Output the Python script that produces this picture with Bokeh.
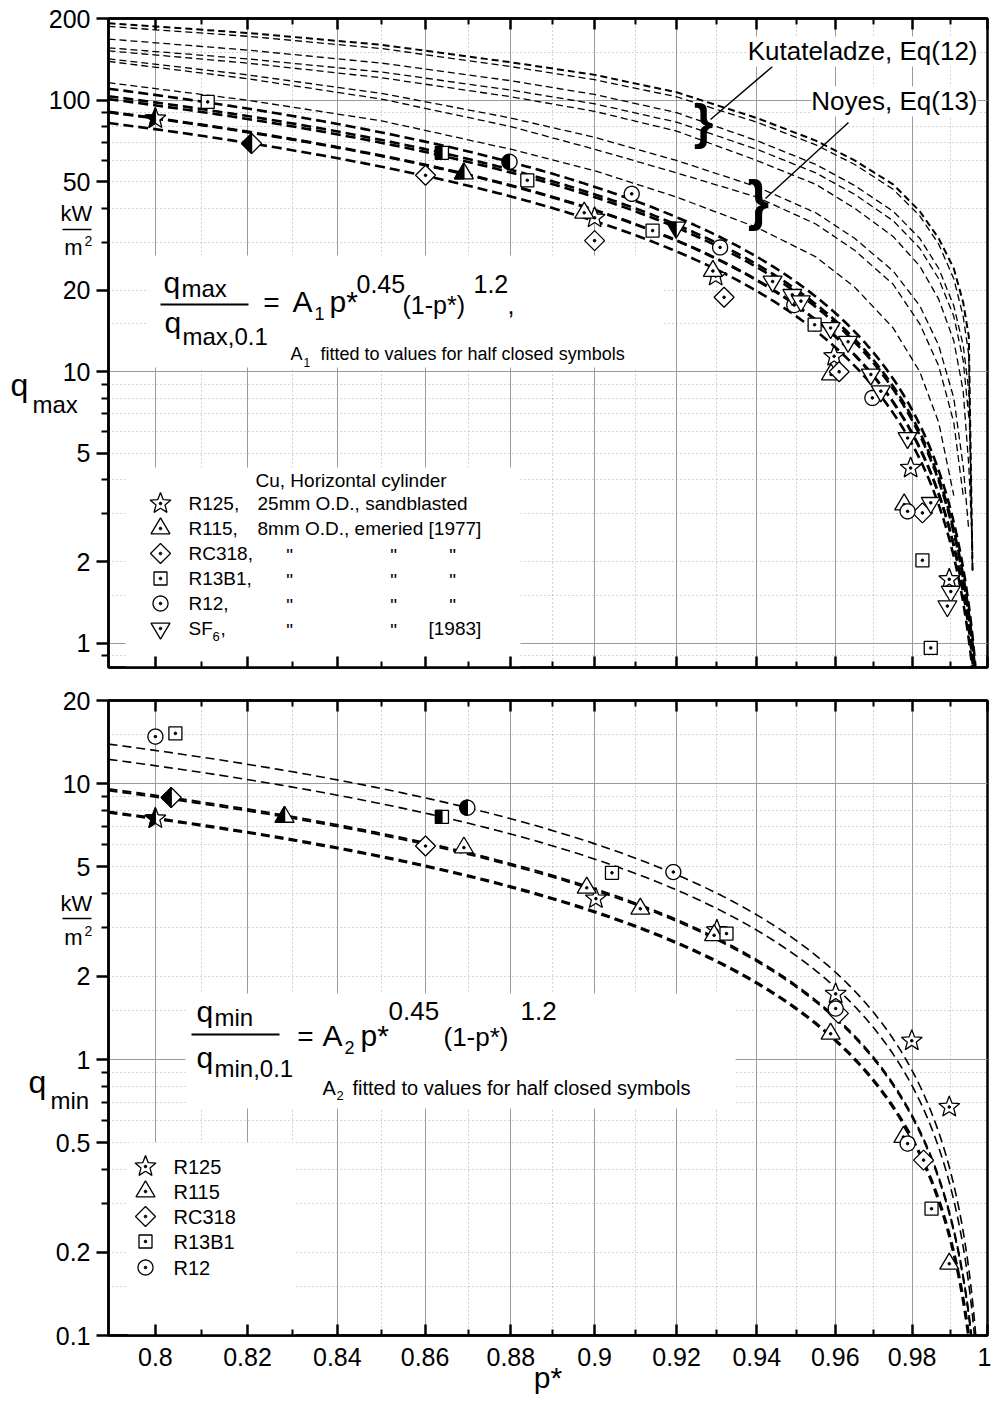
import math
import numpy as np
from bokeh.plotting import figure
from bokeh.layouts import column, row
from bokeh.models import FixedTicker, LogAxis, CustomJSTickFormatter, Label, Range1d
from bokeh.core.properties import value
from bokeh.embed import file_html
from bokeh.resources import INLINE

FONT = "Liberation Sans"
NAN = float("nan")

# ---------------- axes / ticks ----------------
x_major = [0.8, 0.82, 0.84, 0.86, 0.88, 0.9, 0.92, 0.94, 0.96, 0.98, 1.0]
x_minor = [0.81, 0.83, 0.85, 0.87, 0.89, 0.91, 0.93, 0.95, 0.97, 0.99]
top_y_labels = [1, 2, 5, 10, 20, 50, 100, 200]
top_y_minor = [0.9, 3, 4, 6, 7, 8, 9, 30, 40, 60, 70, 80, 90]
top_y_solid = [1, 10, 100]
top_y_dotted = [0.9, 1.5, 2, 3, 4, 5, 6, 7, 8, 9, 15, 20, 30, 40, 50, 60, 70, 80, 90, 150]
bot_y_labels = [0.1, 0.2, 0.5, 1, 2, 5, 10, 20]
bot_y_minor = [0.3, 0.4, 0.6, 0.7, 0.8, 0.9, 3, 4, 6, 7, 8, 9]
bot_y_solid = [1, 10]
bot_y_dotted = [0.15, 0.2, 0.3, 0.4, 0.5, 0.6, 0.7, 0.8, 0.9, 1.5, 2, 3, 4, 5, 6, 7, 8, 9, 15]

# exponents of the correlation printed on the chart
EXP_P = 0.45
EXP_1P = 1.2

# ---------------- top panel: q_max (kW/m2) ----------------
qmax_R125_p = [0.9000, 0.9297, 0.9597, 0.9796, 0.9898]
qmax_R125_q = [36.9, 22.5, 11.4, 4.42, 1.72]
qmax_R115_p = [0.8975, 0.9290, 0.9589, 0.9779]
qmax_R115_q = [38.5, 23.5, 9.77, 3.24]
qmax_RC318_p = [0.8601, 0.9000, 0.9318, 0.9610, 0.9827]
qmax_RC318_q = [52.9, 30.4, 18.8, 10.0, 3.02]
qmax_R13B1_p = [0.8113, 0.8839, 0.9141, 0.9547, 0.9827, 0.9849]
qmax_R13B1_q = [98.6, 50.7, 33.1, 14.9, 2.02, 0.961]
qmax_R12_p = [0.9090, 0.9308, 0.9495, 0.9696, 0.9788]
qmax_R12_q = [45.2, 28.7, 17.6, 8.01, 3.06]
qmax_SF6_p = [0.9440, 0.9490, 0.9512, 0.9588, 0.9633, 0.9692, 0.9718, 0.9788, 0.9849, 0.9902, 0.9893]
qmax_SF6_q = [21.5, 19.2, 18.2, 14.5, 12.9, 9.77, 8.48, 5.70, 3.29, 1.55, 1.37]
# half closed symbols: R125, R115, RC318, R13B1, R12, SF6
qmax_half_p = [0.800, 0.869, 0.8209, 0.8639, 0.8797, 0.9199]
qmax_half_q = [85.6, 53.7, 69.3, 64.0, 59.3, 34.0]

# Kutateladze Eq(12) and Noyes Eq(13) curves
p_theory = [0.79, 0.82, 0.85, 0.88, 0.90, 0.92, 0.94, 0.955, 0.965, 0.975, 0.982, 0.987, 0.991, 0.9935, 0.995, 0.996]
kut_1 = [192, 177, 160, 138, 124, 107, 86, 71, 60, 49, 39, 31, 24, 18, 13.5, 1.85]
kut_2 = [187, 172, 155, 133, 119, 103, 83, 68.5, 58, 47, 37.5, 29.5, 22, 16, 11.5, 1.85]
kut_3 = [168, 153, 137, 118, 105, 90, 71, 58, 48.5, 39, 31, 24, 17.5, 12.5, 8.5, 1.85]
kut_4 = [156, 142, 127, 109, 97, 83, 66, 54, 45, 36, 28.5, 22, 16, 11, 6.8, NAN]
kut_5 = [152, 137, 121, 103, 91, 77, 60, 49, 40, 31.5, 24.5, 18.5, 13, 8.5, 4.5, 2.2]
noy_1 = [142, 124, 106, 86, 73, 60, 48, 38.5, 31, 23.5, 17.5, 12.5, 8, 4.5, 2.6, NAN]
noy_2 = [139, 120, 101, 80, 66, 54, 44, 35, 28, 21, 15, 10.5, 6.5, 3.5, NAN, NAN]
noy_3 = [116, 100, 84, 66, 55, 44, 34, 26.5, 20.5, 14.5, 10, 6.5, 3.5, NAN, NAN, NAN]

# ---------------- bottom panel: q_min (kW/m2) ----------------
qmin_R125_p = [0.9003, 0.9300, 0.9601, 0.9799, 0.9898]
qmin_R125_q = [3.83, 2.94, 1.73, 1.17, 0.673]
qmin_R115_p = [0.8690, 0.8981, 0.9111, 0.9293, 0.9588, 0.9777, 0.9898]
qmin_R115_q = [5.86, 4.19, 3.52, 2.82, 1.24, 0.524, 0.182]
qmin_RC318_p = [0.8601, 0.9608, 0.9830]
qmin_RC318_q = [5.94, 1.47, 0.432]
qmin_R13B1_p = [0.8043, 0.9042, 0.9324, 0.9851]
qmin_R13B1_q = [15.2, 4.75, 2.86, 0.288]
qmin_R12_p = [0.8000, 0.9192, 0.9601, 0.9788]
qmin_R12_q = [14.8, 4.78, 1.53, 0.496]
# half closed symbols: R125, R115, RC318, R13B1, R12
qmin_half_p = [0.800, 0.8282, 0.8034, 0.8639, 0.8698]
qmin_half_q = [7.47, 7.57, 8.90, 7.57, 8.18]

top_kinds = ["star", "triangle", "diamond", "square", "circle", "inverted_triangle"]
bot_kinds = ["star", "triangle", "diamond", "square", "circle"]

# ---------------- geometry helpers (page pixels) ----------------
LABEL_W = 92          # width of the left strip holding tick labels and axis titles
FRAME_L = 108
FRAME_W = 879
X_LO, X_HI = 0.79, 1.0
LX0, LX1 = math.log10(X_LO), math.log10(X_HI)


def xd(px):
    return 10 ** (LX0 + (px - FRAME_L) / FRAME_W * (LX1 - LX0))


def xp(x):
    return FRAME_L + (math.log10(x) - LX0) / (LX1 - LX0) * FRAME_W


class Panel:
    def __init__(self, top, height, ylo, yhi, fig_top, fig_bottom):
        self.top, self.height, self.ylo, self.yhi = top, height, ylo, yhi
        self.fig_top, self.fig_bottom = fig_top, fig_bottom
        self.l0, self.l1 = math.log10(ylo), math.log10(yhi)

    def yd(self, py):
        return 10 ** (self.l1 - (py - self.top) / self.height * (self.l1 - self.l0))

    def yp(self, y):
        return self.top + (self.l1 - math.log10(y)) / (self.l1 - self.l0) * self.height


TOP = Panel(18, 649, 0.814, 200, 0, 677)
BOT = Panel(700, 635, 0.1, 20, 677, 1401)


def make_fig(pan, ylabels, yminor, ysolid, ydotted, show_x):
    f = figure(x_axis_type="log", y_axis_type="log",
               x_range=Range1d(X_LO, X_HI), y_range=Range1d(pan.ylo, pan.yhi),
               frame_width=FRAME_W, frame_height=pan.height,
               min_border_left=FRAME_L - LABEL_W, min_border_right=4,
               min_border_top=pan.top - pan.fig_top,
               min_border_bottom=pan.fig_bottom - pan.top - pan.height,
               output_backend="svg", toolbar_location=None)
    f.frame_align = False
    f.background_fill_color = "white"
    f.border_fill_color = "white"
    f.outline_line_color = "black"
    f.outline_line_width = 2.5
    f.add_layout(LogAxis(), "above")
    for ax in f.xaxis:
        ax.ticker = FixedTicker(ticks=x_major, minor_ticks=x_minor)
        ax.axis_line_width = 2.5
        ax.major_tick_in = 11
        ax.major_tick_out = 0
        ax.minor_tick_in = 6
        ax.minor_tick_out = 0
        ax.major_tick_line_width = 2.5
        ax.minor_tick_line_width = 2
        ax.formatter = CustomJSTickFormatter(code="return '';")
        ax.major_label_text_font_size = "1px"
        ax.major_label_standoff = 0
    if show_x:
        bx = f.below[0]
        bx.formatter = CustomJSTickFormatter(code="return String(Math.round(tick*100)/100);")
        bx.major_label_text_font_size = "25px"
        bx.major_label_text_font = FONT
        bx.major_label_text_color = "black"
        bx.major_label_standoff = 12
        bx.axis_label = "p*"
        bx.axis_label_text_font = FONT
        bx.axis_label_text_font_size = "30px"
        bx.axis_label_text_font_style = "normal"
        bx.axis_label_text_color = "black"
        bx.axis_label_standoff = -8
    ya = f.yaxis[0]
    ya.ticker = FixedTicker(ticks=ylabels, minor_ticks=yminor)
    ya.formatter = CustomJSTickFormatter(code="return '';")
    ya.axis_line_width = 2.5
    ya.major_tick_out = 12
    ya.major_tick_in = 0
    ya.minor_tick_out = 7
    ya.minor_tick_in = 0
    ya.major_tick_line_width = 2.5
    ya.minor_tick_line_width = 2
    ya.major_label_text_font_size = "1px"
    ya.major_label_standoff = 0
    f.xgrid.ticker = FixedTicker(ticks=x_major, minor_ticks=x_minor)
    f.ygrid.ticker = FixedTicker(ticks=ysolid, minor_ticks=ydotted)
    for g in (f.xgrid, f.ygrid):
        g.grid_line_color = "#9a9a9a"
        g.grid_line_width = 1
        g.minor_grid_line_color = "#a8a8a8"
        g.minor_grid_line_width = 1
        g.minor_grid_line_dash = "1 3"
    return f


def make_label_fig(pan, ylabels):
    h = pan.fig_bottom - pan.fig_top
    f = figure(x_range=Range1d(0, LABEL_W), y_axis_type="log",
               y_range=Range1d(pan.yd(pan.fig_bottom), pan.yd(pan.fig_top)),
               frame_width=LABEL_W, frame_height=h,
               x_axis_location=None, y_axis_location=None,
               min_border_left=0, min_border_right=0, min_border_top=0, min_border_bottom=0,
               output_backend="svg", toolbar_location=None)
    f.frame_align = False
    f.outline_line_color = None
    f.grid.visible = False
    f.background_fill_color = "white"
    f.border_fill_color = "white"
    f.text(x=[90] * len(ylabels), y=ylabels, text=[f"{t:g}" for t in ylabels],
           text_align="right", text_baseline="middle", text_font=value(FONT),
           text_font_size="25px", text_color="black")
    return f


def lab(f, pan, x, y, text, size, align="left", baseline="alphabetic", style="normal", bg=None, strip=False):
    # y is the text baseline (alphabetic) or its centre (middle), in page pixels
    xx = x if strip else xd(x)
    yy = y - 0.35 * size if baseline == "alphabetic" else y
    l = Label(x=xx, y=pan.yd(yy), text=text, text_font=FONT, text_font_size=f"{size}px",
              text_align=align, text_baseline="middle", text_font_style=style, text_color="black")
    if bg is not None:
        l.background_fill_color = bg
    f.add_layout(l)


def white_box(f, pan, x0, y0, x1, y1):
    f.quad(left=[xd(x0)], right=[xd(x1)], top=[pan.yd(y0)], bottom=[pan.yd(y1)],
           fill_color="white", line_color=None)


def shape(kind, half):
    if kind == "square":
        a = 6.5
        return [(-a, -a), (0, -a), (0, a), (-a, a)] if half else [(-a, -a), (a, -a), (a, a), (-a, a)]
    if kind == "diamond":
        d = 10
        return [(0, -d), (0, d), (-d, 0)] if half else [(0, -d), (d, 0), (0, d), (-d, 0)]
    if kind == "triangle":
        s, h = 19, 16
        return ([(0, -2 * h / 3), (0, h / 3), (-s / 2, h / 3)] if half
                else [(0, -2 * h / 3), (s / 2, h / 3), (-s / 2, h / 3)])
    if kind == "inverted_triangle":
        s, h = 19, 16
        return ([(0, 2 * h / 3), (0, -h / 3), (-s / 2, -h / 3)] if half
                else [(0, 2 * h / 3), (s / 2, -h / 3), (-s / 2, -h / 3)])
    if kind == "circle":
        r = 7.5
        angs = np.linspace(math.pi / 2, 3 * math.pi / 2, 21) if half else np.linspace(0, 2 * math.pi, 41)
        return [(r * math.cos(a), r * math.sin(a)) for a in angs]
    if kind == "star":
        R, ri = 11.0, 4.7
        ks = range(5, 11) if half else range(10)
        pts = []
        for k in ks:
            a = -math.pi / 2 + k * math.pi / 5
            rad = R if k % 2 == 0 else ri
            pts.append((rad * math.cos(a), rad * math.sin(a)))
        return pts
    raise ValueError(kind)


def markers(f, pan, ps, qs, kind, half=False, dot=True):
    full = shape(kind, False)
    xs, ys = [], []
    for p_, q_ in zip(ps, qs):
        cx, cy = xp(p_), pan.yp(q_)
        xs.append([xd(cx + dx) for dx, dy in full])
        ys.append([pan.yd(cy + dy) for dx, dy in full])
    f.patches(xs, ys, fill_color="white", line_color="black", line_width=1.3)
    if half:
        hp = shape(kind, True)
        hx, hy = [], []
        for p_, q_ in zip(ps, qs):
            cx, cy = xp(p_), pan.yp(q_)
            hx.append([xd(cx + dx) for dx, dy in hp])
            hy.append([pan.yd(cy + dy) for dx, dy in hp])
        f.patches(hx, hy, fill_color="black", line_color="black", line_width=1.3)
    elif dot:
        f.scatter(list(ps), list(qs), marker="circle", size=2.6, fill_color="black", line_color="black")


def legend_marker(f, pan, x, y, kind):
    markers(f, pan, [xd(x)], [pan.yd(y)], kind)


def seg(f, pan, x0, y0, x1, y1, w, strip=False):
    cx = (lambda v: v) if strip else xd
    f.segment(x0=[cx(x0)], y0=[pan.yd(y0)], x1=[cx(x1)], y1=[pan.yd(y1)], line_color="black", line_width=w)


def fit_curve(ph, qh):
    A = qh / (ph ** EXP_P * (1 - ph) ** EXP_1P)
    pp = 1 - np.geomspace(0.21, 0.0025, 300)
    return pp, A * pp ** EXP_P * (1 - pp) ** EXP_1P


# =============== TOP PANEL ===============
ft = make_fig(TOP, top_y_labels, top_y_minor, top_y_solid, top_y_dotted, False)
lt = make_label_fig(TOP, top_y_labels)
white_box(ft, TOP, 148, 255, 662, 367)
white_box(ft, TOP, 125, 467, 520, 675)

p_th = np.array(p_theory)
for qs, w in [(kut_1, 2.0), (kut_2, 1.3), (kut_3, 1.3), (kut_4, 1.3), (kut_5, 1.3),
              (noy_1, 1.3), (noy_2, 1.3), (noy_3, 1.3)]:
    q = np.array(qs, dtype=float)
    m = ~np.isnan(q)
    ft.line(p_th[m], q[m], line_color="black", line_width=w, line_dash="7 4")

for ph, qh in zip(qmax_half_p, qmax_half_q):
    pp, qq = fit_curve(ph, qh)
    ft.line(pp, qq, line_color="black", line_width=2.6, line_dash="10 5")

top_sets = [(qmax_R125_p, qmax_R125_q), (qmax_R115_p, qmax_R115_q), (qmax_RC318_p, qmax_RC318_q),
            (qmax_R13B1_p, qmax_R13B1_q), (qmax_R12_p, qmax_R12_q), (qmax_SF6_p, qmax_SF6_q)]
for (ps, qs), kind in zip(top_sets, top_kinds):
    markers(ft, TOP, ps, qs, kind)
for ph, qh, kind in zip(qmax_half_p, qmax_half_q, top_kinds):
    markers(ft, TOP, [ph], [qh], kind, half=True)

# annotation: braces + leaders
seg(ft, TOP, 710, 119, 772, 66, 1.4)
seg(ft, TOP, 765, 198, 848, 122, 1.4)
lab(ft, TOP, 703, 121, "}", 50, align="center", baseline="middle", style="bold")
lab(ft, TOP, 758, 199, "}", 55, align="center", baseline="middle", style="bold")
lab(ft, TOP, 977, 60, "Kutateladze, Eq(12)", 26, align="right", bg="white")
lab(ft, TOP, 977, 110, "Noyes, Eq(13)", 26, align="right", bg="white")

# equation
lab(ft, TOP, 163, 292, "q", 30)
lab(ft, TOP, 181, 296, "max", 24)
seg(ft, TOP, 160, 304, 248, 304, 2)
lab(ft, TOP, 164, 332, "q", 30)
lab(ft, TOP, 182, 344, "max,0.1", 24)
lab(ft, TOP, 271, 302, "=", 28, align="center", baseline="middle")
lab(ft, TOP, 292, 311, "A", 30)
lab(ft, TOP, 314, 319, "1", 18)
lab(ft, TOP, 329, 311, "p*", 30)
lab(ft, TOP, 356, 292, "0.45", 25)
lab(ft, TOP, 402, 313, "(1-p*)", 25)
lab(ft, TOP, 473, 292, "1.2", 25)
lab(ft, TOP, 507, 313, ",", 25)
lab(ft, TOP, 290, 360, "A", 18)
lab(ft, TOP, 303, 366, "1", 12)
lab(ft, TOP, 320, 360, "fitted to values for half closed symbols", 18)

# legend
lab(ft, TOP, 255, 480, "Cu, Horizontal cylinder", 19, baseline="middle")
rows_y = [503, 528, 553, 578, 603, 628]
for y, kind in zip(rows_y, top_kinds):
    legend_marker(ft, TOP, 160, y, kind)
lab(ft, TOP, 188, 503, "R125,", 19, baseline="middle")
lab(ft, TOP, 257, 503, "25mm O.D., sandblasted", 19, baseline="middle")
lab(ft, TOP, 188, 528, "R115,", 19, baseline="middle")
lab(ft, TOP, 257, 528, "8mm O.D., emeried [1977]", 19, baseline="middle")
for y, name in zip(rows_y[2:5], ["RC318,", "R13B1,", "R12,"]):
    lab(ft, TOP, 188, y, name, 19, baseline="middle")
    for xx in (289, 393, 452):
        lab(ft, TOP, xx, y + 2, '"', 19, align="center", baseline="middle")
lab(ft, TOP, 188, 628, "SF", 19, baseline="middle")
lab(ft, TOP, 212, 636, "6", 13, baseline="middle")
lab(ft, TOP, 220, 628, ",", 19, baseline="middle")
for xx in (289, 393):
    lab(ft, TOP, xx, 630, '"', 19, align="center", baseline="middle")
lab(ft, TOP, 428, 628, "[1983]", 19, baseline="middle")

# y-axis title (left strip)
lab(lt, TOP, 76, 221, "kW", 22, align="center", strip=True)
seg(lt, TOP, 62, 229, 91, 229, 1.6, strip=True)
lab(lt, TOP, 73, 255, "m", 22, align="center", strip=True)
lab(lt, TOP, 84, 245, "2", 14, strip=True)
lab(lt, TOP, 10, 396, "q", 32, strip=True)
lab(lt, TOP, 32, 412, "max", 24, strip=True)

# =============== BOTTOM PANEL ===============
fb = make_fig(BOT, bot_y_labels, bot_y_minor, bot_y_solid, bot_y_dotted, True)
lb = make_label_fig(BOT, bot_y_labels)
white_box(fb, BOT, 185, 993, 735, 1108)
white_box(fb, BOT, 128, 1142, 295, 1345)

for ph, qh, w in zip(qmin_half_p, qmin_half_q, [3.2, 1.9, 1.9, 1.6, 1.6]):
    pp, qq = fit_curve(ph, qh)
    fb.line(pp, qq, line_color="black", line_width=w, line_dash="9 5")

bot_sets = [(qmin_R125_p, qmin_R125_q), (qmin_R115_p, qmin_R115_q), (qmin_RC318_p, qmin_RC318_q),
            (qmin_R13B1_p, qmin_R13B1_q), (qmin_R12_p, qmin_R12_q)]
for (ps, qs), kind in zip(bot_sets, bot_kinds):
    markers(fb, BOT, ps, qs, kind)
for ph, qh, kind in zip(qmin_half_p, qmin_half_q, bot_kinds):
    markers(fb, BOT, [ph], [qh], kind, half=True)

# equation
lab(fb, BOT, 196, 1021, "q", 30)
lab(fb, BOT, 214, 1025, "min", 24)
seg(fb, BOT, 191, 1034, 279, 1034, 2)
lab(fb, BOT, 196, 1067, "q", 30)
lab(fb, BOT, 214, 1076, "min,0.1", 24)
lab(fb, BOT, 305, 1036, "=", 28, align="center", baseline="middle")
lab(fb, BOT, 322, 1045, "A", 30)
lab(fb, BOT, 344, 1053, "2", 18)
lab(fb, BOT, 360, 1045, "p*", 30)
lab(fb, BOT, 388, 1020, "0.45", 26)
lab(fb, BOT, 443, 1046, "(1-p*)", 26)
lab(fb, BOT, 520, 1020, "1.2", 26)
lab(fb, BOT, 322, 1094, "A", 20)
lab(fb, BOT, 336, 1100, "2", 13)
lab(fb, BOT, 352, 1094, "fitted to values for half closed symbols", 20)

# legend
for y, kind, name in zip([1166, 1191, 1216, 1241, 1267], bot_kinds, ["R125", "R115", "RC318", "R13B1", "R12"]):
    legend_marker(fb, BOT, 145, y, kind)
    lab(fb, BOT, 173, y, name, 20, baseline="middle")

# y-axis title (left strip)
lab(lb, BOT, 76, 911, "kW", 22, align="center", strip=True)
seg(lb, BOT, 62, 918, 91, 918, 1.6, strip=True)
lab(lb, BOT, 73, 945, "m", 22, align="center", strip=True)
lab(lb, BOT, 84, 935, "2", 14, strip=True)
lab(lb, BOT, 28, 1093, "q", 32, strip=True)
lab(lb, BOT, 50, 1108, "min", 24, strip=True)

layout = column(row(lt, ft), row(lb, fb))
open("out.html", "w").write(file_html(layout, INLINE))
